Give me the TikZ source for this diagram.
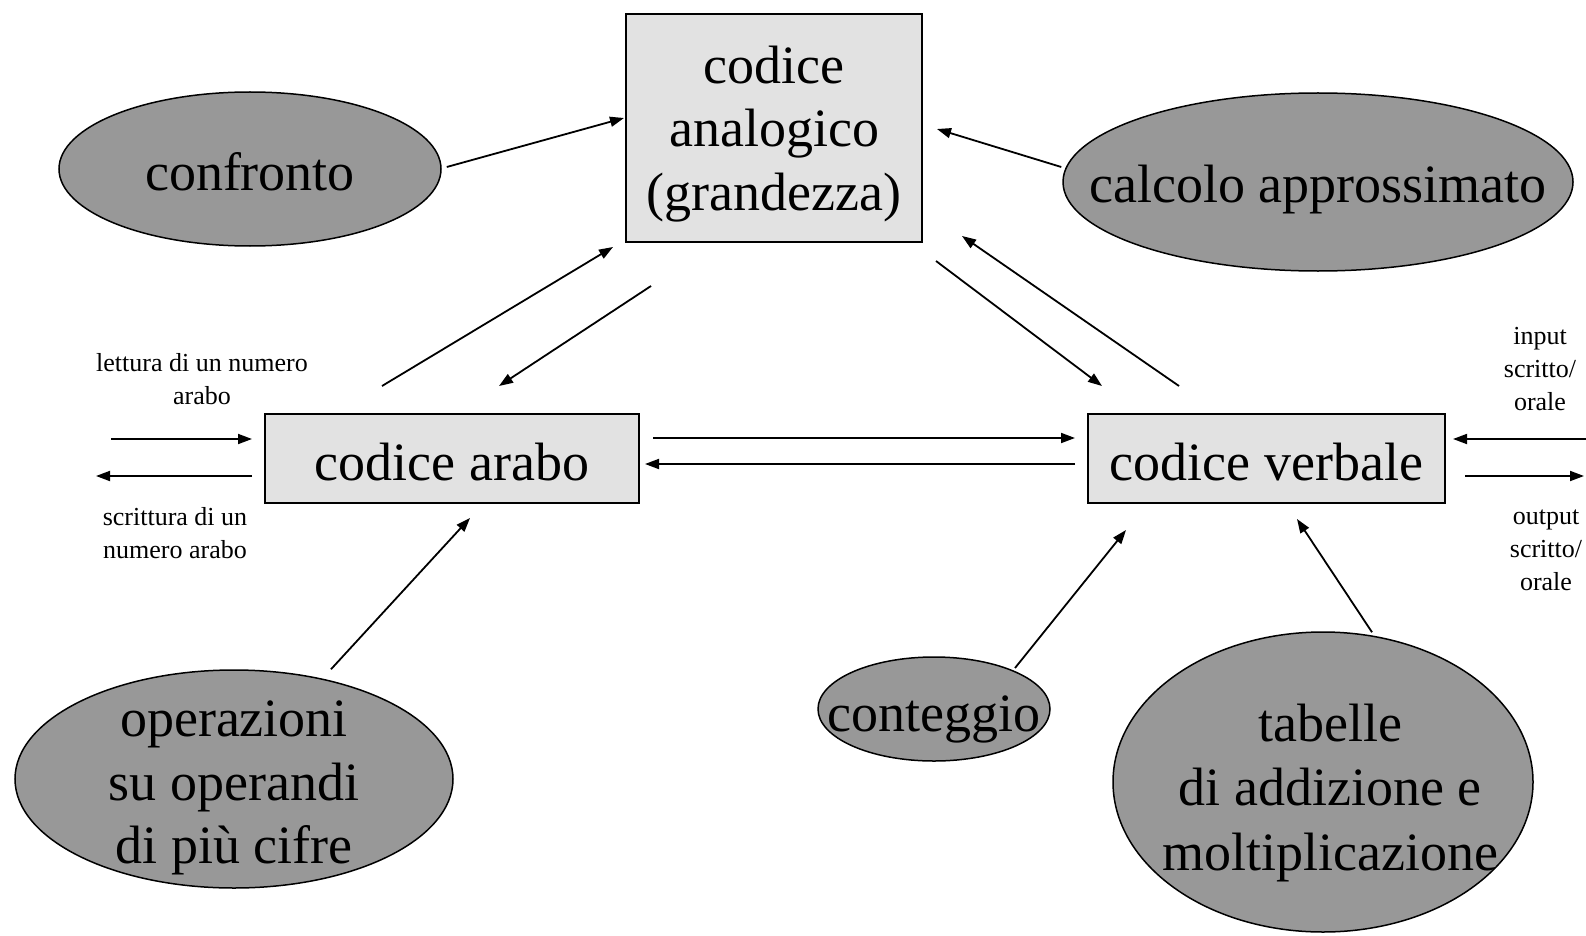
\documentclass[tikz,border=0pt]{standalone}
\usepackage{fontspec}
\setmainfont{Liberation Serif}
\usetikzlibrary{shapes.geometric,arrows.meta}
\definecolor{boxfill}{RGB}{226,226,226}
\definecolor{ovalfill}{RGB}{152,152,152}
\begin{document}
\begin{tikzpicture}[x=1pt,y=-1pt,
  codebox/.style={draw=black,line width=2pt,fill=boxfill,rectangle,inner sep=0pt},
  oval/.style={draw=black,line width=1.5pt,fill=ovalfill,ellipse,inner sep=0pt},
  big/.style={font=\fontsize{54}{63.5}\selectfont,align=center,inner sep=0pt},
  small/.style={font=\fontsize{26}{33}\selectfont,align=center,inner sep=0pt},
  link/.style={line width=1.8pt,-{Triangle[length=14pt,width=10pt]}}]
\useasboundingbox (0,0) rectangle (1586,936);

% the three codes
\node[codebox,minimum width=296pt,minimum height=228pt] (ana) at (774,128) {};
\node[big] (anat) at (774,134) {codice\\analogico\\(grandezza)};
\node[codebox,minimum width=374pt,minimum height=89pt] (arabo) at (452,458.5) {};
\node[big] (arabot) at (452,462) {codice arabo};
\node[codebox,minimum width=357pt,minimum height=89pt] (verb) at (1266.5,458.5) {};
\node[big] (verbt) at (1266.5,462) {codice verbale};

% tasks
\node[oval,minimum width=382pt,minimum height=154pt] (conf) at (250,169) {};
\node[big] (conft) at (250,172) {confronto};
\node[oval,minimum width=510pt,minimum height=178pt] (calc) at (1318,182) {};
\node[big] (calct) at (1318,190) {calcolo approssimato};
\node[oval,minimum width=438pt,minimum height=218pt] (oper) at (234,779) {};
\node[big] (opert) at (234,788) {operazioni\\su operandi\\di più cifre};
\node[oval,minimum width=232pt,minimum height=104pt] (cont) at (934,709) {};
\node[big] (contt) at (934,719) {conteggio};
\node[oval,minimum width=420pt,minimum height=300pt] (tab) at (1323,782) {};
\node[big,font=\fontsize{54}{64.5}\selectfont] (tabt) at (1330,793)
  {tabelle\\di addizione e\\moltiplicazione};

% input / output labels
\node[small] (lett) at (202,379) {lettura di un numero\\arabo};
\node[small] (scri) at (175,533) {scrittura di un\\numero arabo};
\node[small] (inp) at (1540,369) {input\\scritto/\\orale};
\node[small] (outp) at (1546,550) {output\\scritto/\\orale};

\coordinate (lin) at (111,439);
\coordinate (lout) at (96,476);
\coordinate (rin) at (1590,439);
\coordinate (rout) at (1584,476);

% connectors
\draw[link] ([shift={(5,-2)}]conf.east) -- ([shift={(-1,-10)}]ana.west);
\draw[link] ([shift={(-1,-15)}]calc.west) -- ([shift={(14,1)}]ana.east);
\draw[link] ([shift={(-70,-27)}]arabo.north) -- ([shift={(-161,4)}]ana.south);
\draw[link] ([shift={(-123,43)}]ana.south) -- ([shift={(47,-27)}]arabo.north);
\draw[link] ([shift={(162,18)}]ana.south) -- ([shift={(-164.5,-27)}]verb.north);
\draw[link] ([shift={(-87.5,-27)}]verb.north) -- ([shift={(188,-7)}]ana.south);
\draw[link] ([shift={(13,-20.5)}]arabo.east) -- ([shift={(-12,-20.5)}]verb.west);
\draw[link] ([shift={(-12,5.5)}]verb.west) -- ([shift={(5,5.5)}]arabo.east);
\draw[link] (lin) -- ([shift={(-12,-19.5)}]arabo.west);
\draw[link] ([shift={(-12,17.5)}]arabo.west) -- (lout);
\draw[link] (rin) -- ([shift={(7,-19.5)}]verb.east);
\draw[link] ([shift={(19,17.5)}]verb.east) -- (rout);
\draw[link] ([shift={(97,0)}]oper.north) -- ([shift={(18,14)}]arabo.south);
\draw[link] ([shift={(81,-41)}]cont.center) -- ([shift={(-140.5,26)}]verb.south);
\draw[link] ([shift={(49,1)}]tab.north) -- ([shift={(30.5,15)}]verb.south);
\end{tikzpicture}
\end{document}
